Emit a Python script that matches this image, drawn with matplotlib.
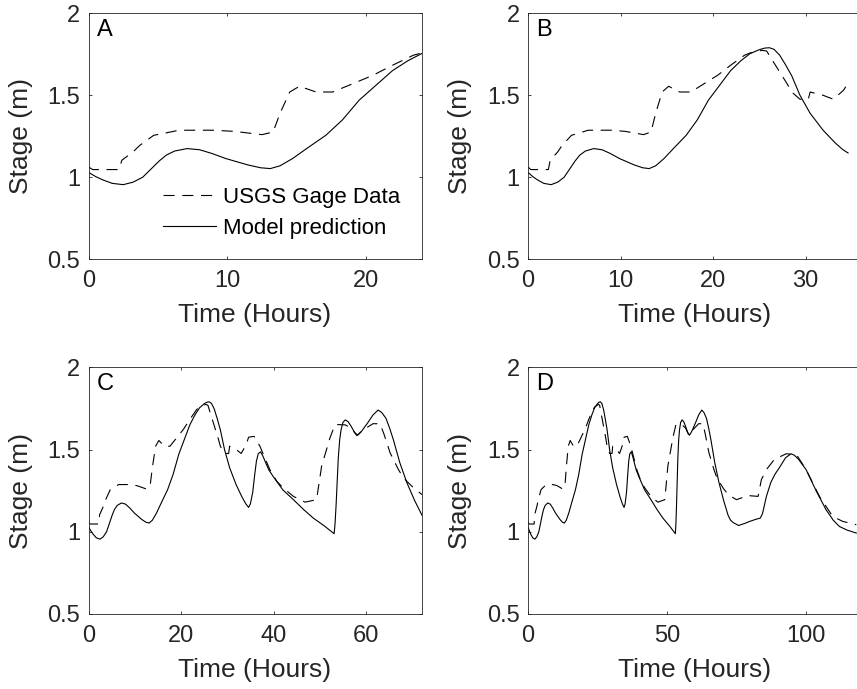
import matplotlib
matplotlib.use("Agg")
import matplotlib.pyplot as plt

plt.rcParams["font.family"] = ["Liberation Sans", "DejaVu Sans"]
plt.rcParams["lines.scale_dashes"] = False

# stage record (hours, m) for the whole run; each panel shows a longer window
time_gage = [0, 0.3, 2.2, 2.4, 3.2, 3.7, 4.7, 5.9, 6.5, 9.0, 10.5, 12.5, 13.3,
             13.8, 14.5, 15.2, 16.4, 17.6, 19.05, 20.5, 21.9, 23.4, 24.0, 25.3,
             25.8, 26.3, 27.1, 28.0, 28.5, 29.4, 30.3, 30.5, 31.9, 33.0, 34.1,
             34.6, 35.8, 37.05, 39.2, 40.7, 42.1, 44.3, 46.8, 49.3, 50.4, 52.2,
             53.3, 55.5, 56.8, 58.0, 59.4, 61.5, 63.0, 63.8, 65.2, 67.0, 68.1,
             70.3, 72.1, 75.1, 79.3, 82.9, 84.1, 85.9, 88.8, 93.0, 96.7, 100.2,
             105.0, 109.8, 113.4, 118.3]
stage_gage = [1.063, 1.047, 1.047, 1.104, 1.154, 1.195, 1.256, 1.276, 1.287,
              1.287, 1.28, 1.26, 1.276, 1.39, 1.52, 1.555, 1.52, 1.52, 1.571,
              1.622, 1.683, 1.744, 1.758, 1.774, 1.77, 1.724, 1.652, 1.571,
              1.52, 1.476, 1.476, 1.52, 1.50, 1.476, 1.53, 1.575, 1.58, 1.52,
              1.378, 1.307, 1.266, 1.215, 1.18, 1.195, 1.40, 1.571, 1.652,
              1.65, 1.63, 1.585, 1.62, 1.657, 1.657, 1.60, 1.48, 1.378, 1.327,
              1.266, 1.226, 1.195, 1.22, 1.215, 1.317, 1.378, 1.44, 1.474, 1.47,
              1.378, 1.215, 1.093, 1.063, 1.043]

time_model = [0, 0.5, 1, 1.7, 2.5, 3.2, 3.9, 4.5, 5.1, 5.6, 6.2, 7.1, 8.0, 8.9,
              9.9, 11.5, 12.4, 13.1, 13.8, 14.7, 15.8, 17.1, 18.3, 19.5, 20.7,
              21.9, 23, 24, 25, 25.6, 26.1, 26.6, 27.2, 27.8, 28.5, 29.4, 30.5,
              31.9, 33.2, 34.0, 34.6, 35.0, 35.5, 35.9, 36.3, 36.7, 37.2, 37.7,
              38.3, 39.0, 39.9, 42, 44.3, 46.5, 48.6, 51, 53.1, 53.3, 53.5,
              53.8, 54, 54.3, 54.6, 55.0, 55.5, 56.1, 56.8, 57.5, 58.2, 59.0,
              60.3, 61.5, 62.6, 63.4, 64.3, 65.1, 65.9, 67.3, 68.8, 70.5, 72.1,
              73, 74, 75.9, 78, 79.9, 82, 83.7, 84.5, 85.9, 87.5, 89, 90.6,
              92.8, 94.8, 96, 97.5, 100.2, 103.8, 107.4, 110, 112.2, 115, 118.3]
stage_model = [1.03, 1.005, 0.985, 0.963, 0.955, 0.97, 1.0, 1.05, 1.10, 1.135,
               1.16, 1.175, 1.168, 1.145, 1.114, 1.075, 1.058, 1.053, 1.07,
               1.114, 1.18, 1.256, 1.35, 1.47, 1.56, 1.65, 1.71, 1.754, 1.778,
               1.788, 1.79, 1.78, 1.745, 1.69, 1.62, 1.50, 1.39, 1.287, 1.21,
               1.17, 1.148, 1.17, 1.24, 1.34, 1.43, 1.475, 1.486, 1.46, 1.42,
               1.375, 1.337, 1.255, 1.195, 1.135, 1.083, 1.035, 0.988, 1.05,
               1.15, 1.33, 1.45, 1.56, 1.62, 1.665, 1.68, 1.67, 1.64, 1.605,
               1.587, 1.61, 1.66, 1.71, 1.74, 1.725, 1.69, 1.63, 1.56, 1.42,
               1.30, 1.19, 1.10, 1.07, 1.055, 1.038, 1.05, 1.063, 1.075, 1.083,
               1.11, 1.215, 1.30, 1.35, 1.39, 1.45, 1.474, 1.465, 1.44, 1.378,
               1.25, 1.134, 1.07, 1.032, 1.01, 0.992]

panel_labels = ["A", "B", "C", "D"]
panel_xmax = [24, 36, 72, 120]
panel_tend = [24, 34.6, 72.1, 118.3]
panel_xticks = [[0, 10, 20], [0, 10, 20, 30], [0, 20, 40, 60], [0, 50, 100]]
yticks = [0.5, 1, 1.5, 2]
ytick_labels = ["0.5", "1", "1.5", "2"]

axis_color = "#262626"
positions = [
    [0.1033, 0.6237, 0.3886, 0.3570],
    [0.6161, 0.6237, 0.3886, 0.3570],
    [0.1033, 0.1089, 0.3886, 0.3580],
    [0.6161, 0.1089, 0.3886, 0.3580],
]

fig = plt.figure(figsize=(8.57, 6.89), dpi=100)

for i, pos in enumerate(positions):
    ax = fig.add_axes(pos)
    tend = panel_tend[i]
    tg = [t for t in time_gage if t <= tend]
    sg = stage_gage[: len(tg)]
    tm = [t for t in time_model if t <= tend]
    sm = stage_model[: len(tm)]
    ax.plot(tg, sg, color="black", lw=0.8, linestyle=(0, (8, 5.5)),
            label="USGS Gage Data")
    ax.plot(tm, sm, color="black", lw=0.8, label="Model prediction")

    ax.set_xlim(0, panel_xmax[i])
    ax.set_ylim(0.5, 2)
    ax.set_xticks(panel_xticks[i])
    ax.set_yticks(yticks)
    ax.set_yticklabels(ytick_labels)
    ax.tick_params(direction="in", top=True, right=True, length=2.5,
                   width=0.6, color=axis_color, labelsize=17,
                   labelcolor=axis_color)
    ax.tick_params(axis="x", pad=8)
    ax.tick_params(axis="y", pad=6)
    for sp in ax.spines.values():
        sp.set_color(axis_color)
        sp.set_linewidth(0.6)

    ax.set_xlabel("Time (Hours)", fontsize=19, color=axis_color)
    ax.set_ylabel("Stage (m)", fontsize=19, color=axis_color)
    ax.xaxis.set_label_coords(0.5, -0.178)
    ax.yaxis.set_label_coords(-0.167, 0.5)

    ax.text(0.025, 0.975, panel_labels[i], transform=ax.transAxes,
            ha="left", va="top", fontsize=17, color="black")

    if i == 0:
        ax.legend(loc="center left", bbox_to_anchor=(0.224, 0.19),
                  frameon=False, fontsize=16, handlelength=2.4,
                  handletextpad=0.3, labelspacing=0.45, borderpad=0,
                  borderaxespad=0)

fig.savefig("out.png", dpi=100)
